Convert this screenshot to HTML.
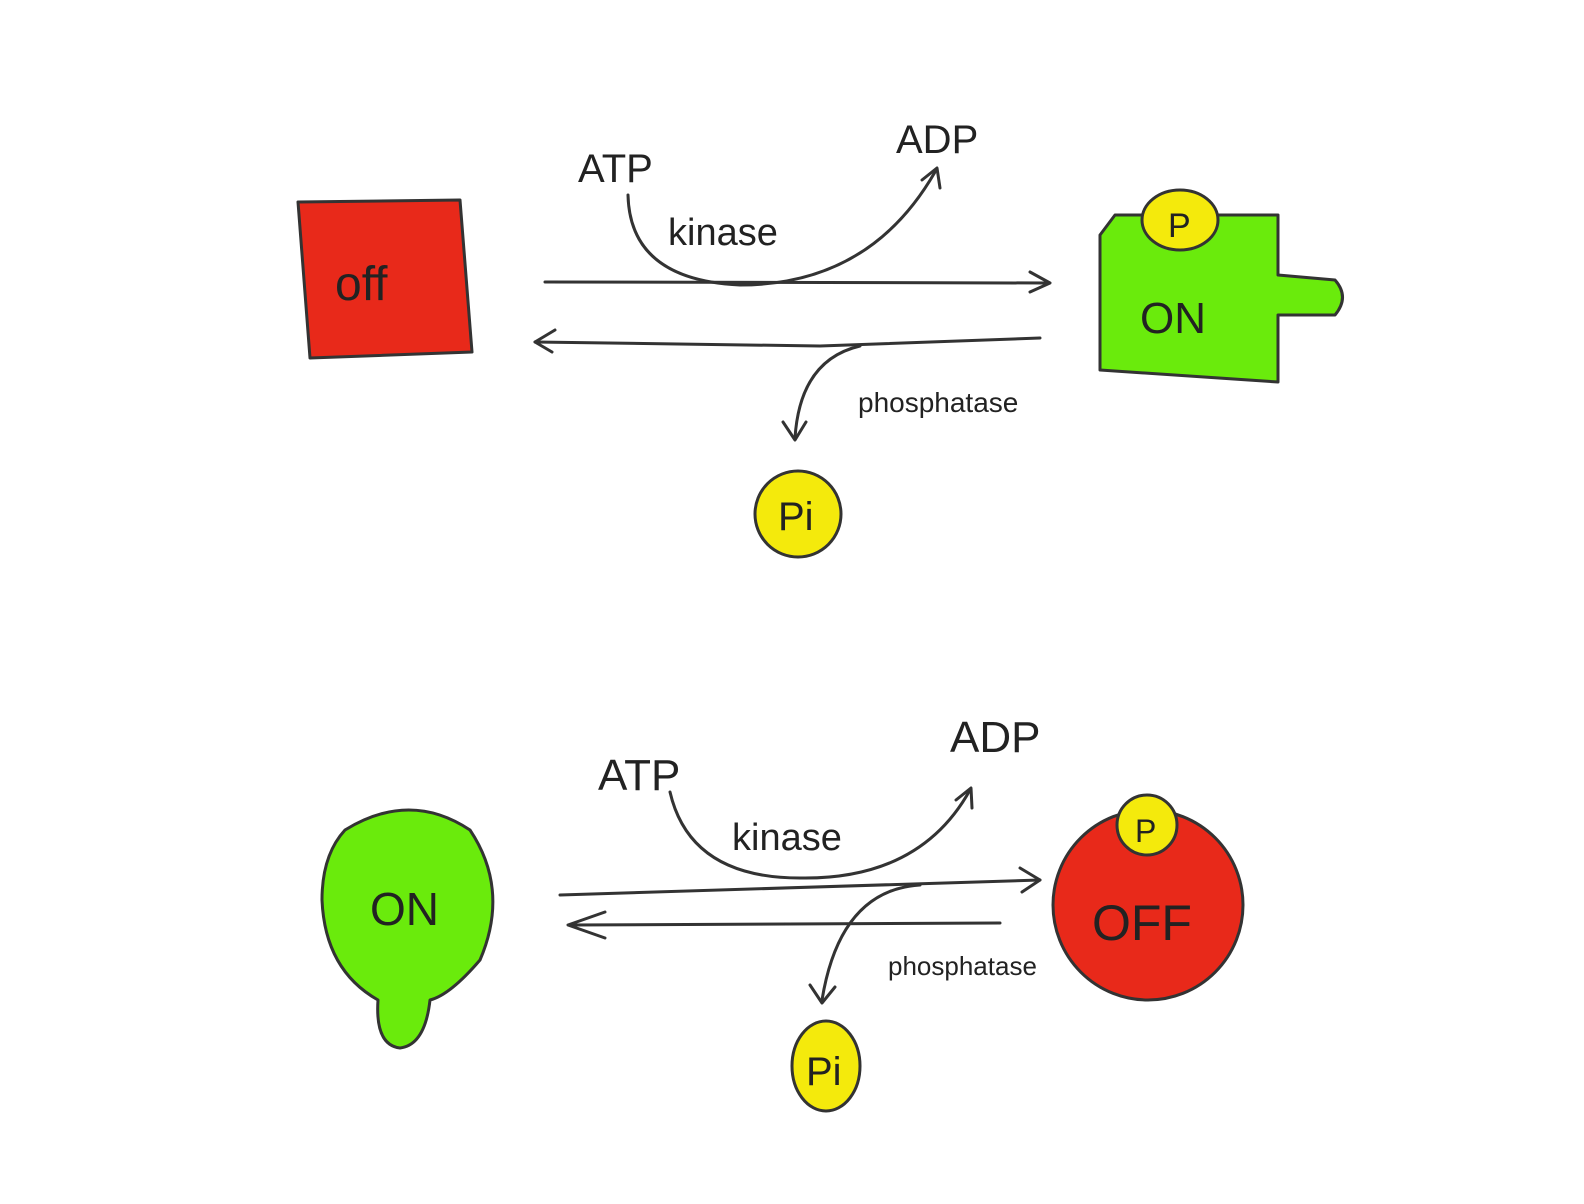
<!DOCTYPE html>
<html><head><meta charset="utf-8"><style>
html,body{margin:0;padding:0;background:#fff;}
svg{display:block;}
text{font-family:"Liberation Sans",sans-serif;fill:#222;}
</style></head><body>
<svg width="1584" height="1204" viewBox="0 0 1584 1204" xmlns="http://www.w3.org/2000/svg">
<g fill="none" stroke="#333" stroke-width="3" stroke-linecap="round" stroke-linejoin="round">
<!-- TOP -->
<path d="M298,202 L460,200 L472,352 L310,358 Z" fill="#e8291a"/>
<path d="M1100,235 L1115,215 L1278,215 L1278,275 L1335,280 Q1350,297 1335,315 L1278,315 L1278,382 L1100,370 Z" fill="#6aeb0c"/>
<ellipse cx="1180" cy="220" rx="38" ry="30" fill="#f4ea0c"/>
<circle cx="798" cy="514" r="43" fill="#f4ea0c"/>
<path d="M545,282 L1048,283"/>
<path d="M1030,272 L1050,283 L1030,292"/>
<path d="M1040,338 L820,346 L535,342"/>
<path d="M555,330 L535,342 L552,352"/>
<path d="M628,195 Q630,280 740,285 Q870,285 935,172"/>
<path d="M922,180 L937,168 L940,188"/>
<path d="M860,346 Q800,360 795,438"/>
<path d="M783,422 L795,440 L806,422"/>
<!-- BOTTOM -->
<path d="M345,830 Q410,790 470,830 Q510,890 480,960 Q450,995 430,1000 Q425,1045 400,1048 Q375,1045 378,1000 Q325,970 322,900 Q322,855 345,830 Z" fill="#6aeb0c"/>
<circle cx="1148" cy="905" r="95" fill="#e8291a"/>
<ellipse cx="1147" cy="825" rx="30" ry="30" fill="#f4ea0c"/>
<ellipse cx="826" cy="1066" rx="34" ry="45" fill="#f4ea0c"/>
<path d="M560,895 L1040,880"/>
<path d="M1020,868 L1040,880 L1022,892"/>
<path d="M1000,923 L570,925"/>
<path d="M605,912 L568,925 L605,938"/>
<path d="M670,792 Q690,878 800,878 Q920,880 970,790"/>
<path d="M956,800 L971,788 L972,808"/>
<path d="M920,885 Q840,890 822,1000"/>
<path d="M810,985 L822,1003 L835,987"/>
</g>
<g font-size="40">
<text x="335" y="300" font-size="48">off</text>
<text x="1140" y="333" font-size="44">ON</text>
<text x="1168" y="237" font-size="34">P</text>
<text x="778" y="530" font-size="40">Pi</text>
<text x="578" y="182" font-size="40">ATP</text>
<text x="896" y="153" font-size="40">ADP</text>
<text x="668" y="245" font-size="38">kinase</text>
<text x="858" y="412" font-size="28">phosphatase</text>
<text x="370" y="925" font-size="46">ON</text>
<text x="1092" y="940" font-size="50">OFF</text>
<text x="1135" y="842" font-size="32">P</text>
<text x="806" y="1085" font-size="40">Pi</text>
<text x="598" y="790" font-size="44">ATP</text>
<text x="950" y="752" font-size="44">ADP</text>
<text x="732" y="850" font-size="38">kinase</text>
<text x="888" y="975" font-size="26">phosphatase</text>
</g>
</svg>
</body></html>
